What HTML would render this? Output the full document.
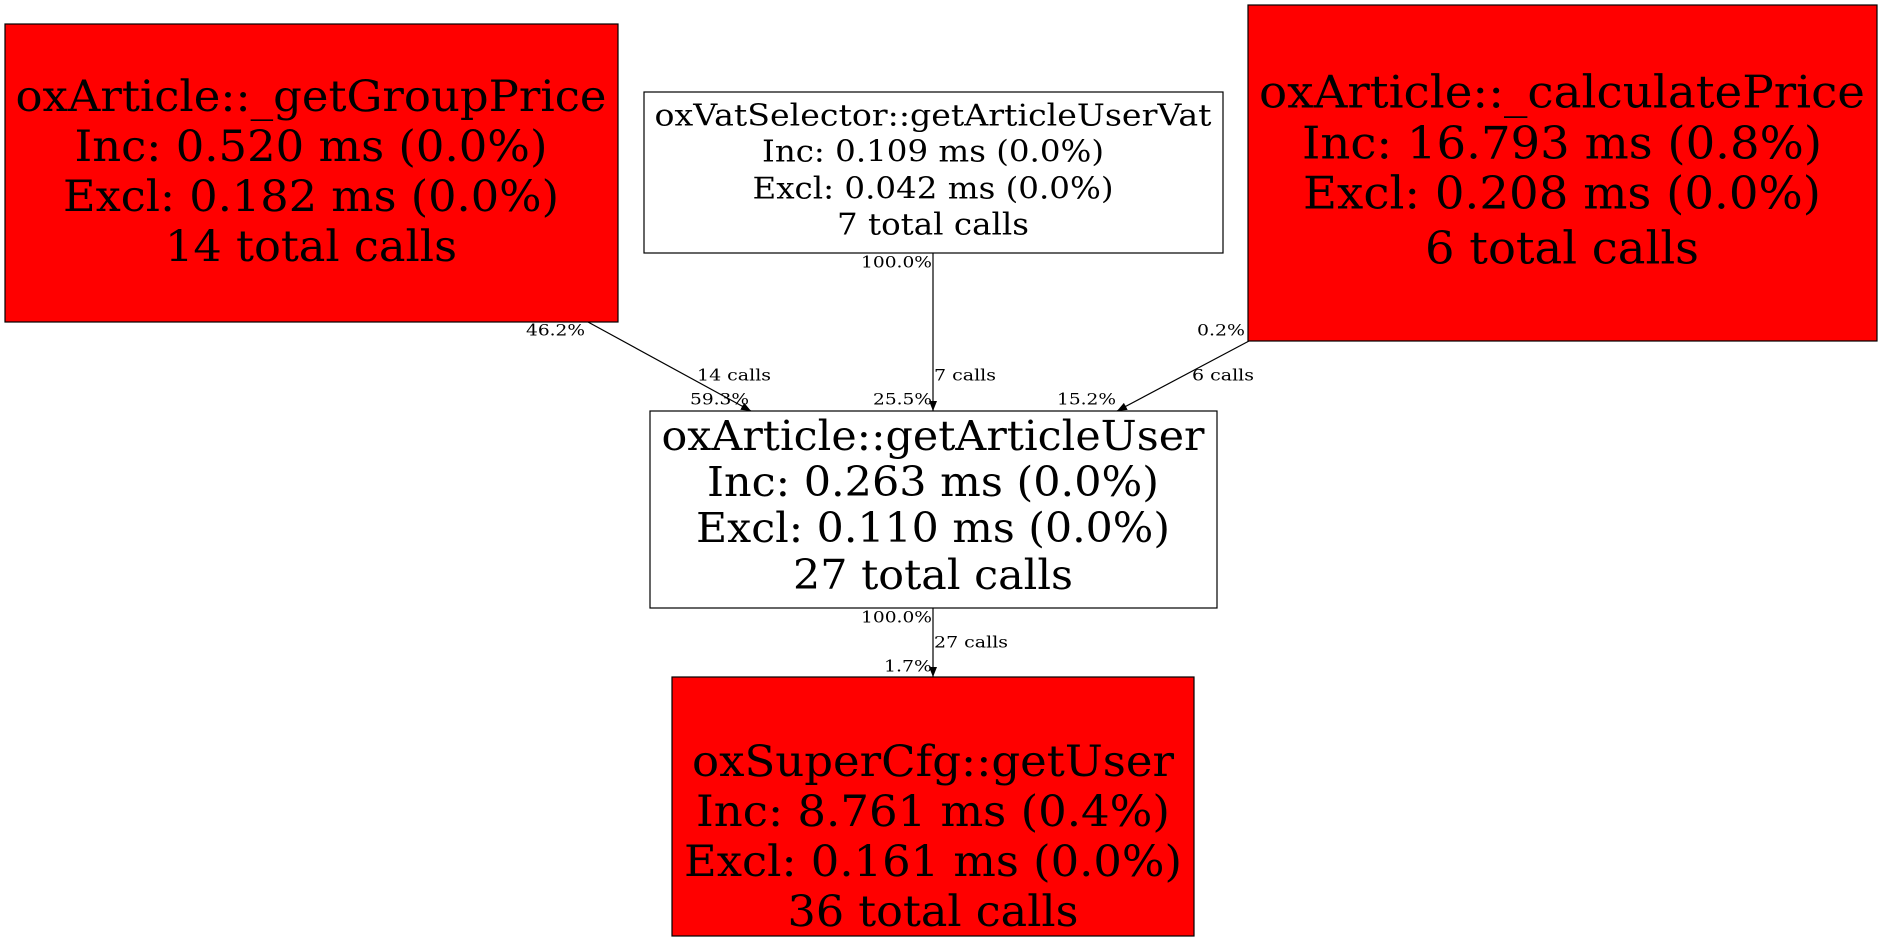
<!DOCTYPE html>
<html><head><meta charset="utf-8"><style>
html,body{margin:0;padding:0;background:#fff;width:1883px;height:941px;overflow:hidden}
svg{display:block}
text{font-family:"DejaVu Serif","Liberation Serif",serif;fill:#000}
</style></head><body>
<svg width="1883" height="941" viewBox="0 0 1883 941" xmlns="http://www.w3.org/2000/svg">
<defs><marker id="ah" markerWidth="10" markerHeight="8" refX="10" refY="4" orient="auto" markerUnits="userSpaceOnUse"><path d="M0,0 L10,4 L0,8 z" fill="#000"/></marker></defs>
<g stroke="#000" stroke-width="1.2">
<rect x="5" y="24" width="613" height="298" fill="#ff0000"/>
<rect x="644" y="92" width="579" height="161" fill="#fff"/>
<rect x="1248" y="5" width="629" height="336" fill="#ff0000"/>
<rect x="650" y="411" width="567" height="197" fill="#fff"/>
<rect x="672" y="677" width="522" height="259" fill="#ff0000"/>
<line x1="588" y1="322" x2="751" y2="411" marker-end="url(#ah)"/>
<line x1="933" y1="253" x2="933" y2="411" marker-end="url(#ah)"/>
<line x1="1249" y1="341" x2="1117" y2="411" marker-end="url(#ah)"/>
<line x1="933" y1="608" x2="933" y2="677" marker-end="url(#ah)"/>
</g>
<g text-anchor="middle" dominant-baseline="central" font-size="43">
<text x="311" y="97" textLength="591" lengthAdjust="spacingAndGlyphs">oxArticle::_getGroupPrice</text>
<text x="311" y="147" textLength="473" lengthAdjust="spacingAndGlyphs">Inc: 0.520 ms (0.0%)</text>
<text x="311" y="197" textLength="496" lengthAdjust="spacingAndGlyphs">Excl: 0.182 ms (0.0%)</text>
<text x="311" y="247" textLength="292" lengthAdjust="spacingAndGlyphs">14 total calls</text>
</g>
<g text-anchor="middle" dominant-baseline="central" font-size="30">
<text x="933" y="116" textLength="557" lengthAdjust="spacingAndGlyphs">oxVatSelector::getArticleUserVat</text>
<text x="933" y="152" textLength="342" lengthAdjust="spacingAndGlyphs">Inc: 0.109 ms (0.0%)</text>
<text x="933" y="189" textLength="361" lengthAdjust="spacingAndGlyphs">Excl: 0.042 ms (0.0%)</text>
<text x="933" y="225" textLength="192" lengthAdjust="spacingAndGlyphs">7 total calls</text>
</g>
<g text-anchor="middle" dominant-baseline="central" font-size="45">
<text x="1562" y="92" textLength="606" lengthAdjust="spacingAndGlyphs">oxArticle::_calculatePrice</text>
<text x="1562" y="143" textLength="520" lengthAdjust="spacingAndGlyphs">Inc: 16.793 ms (0.8%)</text>
<text x="1562" y="193" textLength="518" lengthAdjust="spacingAndGlyphs">Excl: 0.208 ms (0.0%)</text>
<text x="1562" y="248" textLength="274" lengthAdjust="spacingAndGlyphs">6 total calls</text>
</g>
<g text-anchor="middle" dominant-baseline="central" font-size="41">
<text x="933" y="436" textLength="543" lengthAdjust="spacingAndGlyphs">oxArticle::getArticleUser</text>
<text x="933" y="482" textLength="452" lengthAdjust="spacingAndGlyphs">Inc: 0.263 ms (0.0%)</text>
<text x="933" y="528" textLength="474" lengthAdjust="spacingAndGlyphs">Excl: 0.110 ms (0.0%)</text>
<text x="933" y="575" textLength="280" lengthAdjust="spacingAndGlyphs">27 total calls</text>
</g>
<g text-anchor="middle" dominant-baseline="central" font-size="43">
<text x="933" y="762" textLength="482" lengthAdjust="spacingAndGlyphs">oxSuperCfg::getUser</text>
<text x="933" y="812" textLength="474" lengthAdjust="spacingAndGlyphs">Inc: 8.761 ms (0.4%)</text>
<text x="933" y="862" textLength="498" lengthAdjust="spacingAndGlyphs">Excl: 0.161 ms (0.0%)</text>
<text x="933" y="912" textLength="291" lengthAdjust="spacingAndGlyphs">36 total calls</text>
</g>
<g dominant-baseline="central" font-size="16">
<text x="585" y="330" text-anchor="end" textLength="59" lengthAdjust="spacingAndGlyphs">46.2%</text>
<text x="697" y="375" textLength="74" lengthAdjust="spacingAndGlyphs">14 calls</text>
<text x="690" y="399" textLength="59" lengthAdjust="spacingAndGlyphs">59.3%</text>
<text x="932" y="262" text-anchor="end" textLength="71" lengthAdjust="spacingAndGlyphs">100.0%</text>
<text x="934" y="375" textLength="62" lengthAdjust="spacingAndGlyphs">7 calls</text>
<text x="932" y="399" text-anchor="end" textLength="59" lengthAdjust="spacingAndGlyphs">25.5%</text>
<text x="1245" y="330" text-anchor="end" textLength="48" lengthAdjust="spacingAndGlyphs">0.2%</text>
<text x="1192" y="375" textLength="62" lengthAdjust="spacingAndGlyphs">6 calls</text>
<text x="1057" y="399" textLength="59" lengthAdjust="spacingAndGlyphs">15.2%</text>
<text x="932" y="617" text-anchor="end" textLength="71" lengthAdjust="spacingAndGlyphs">100.0%</text>
<text x="934" y="642" textLength="74" lengthAdjust="spacingAndGlyphs">27 calls</text>
<text x="932" y="666" text-anchor="end" textLength="48" lengthAdjust="spacingAndGlyphs">1.7%</text>
</g>
</svg>
</body></html>
